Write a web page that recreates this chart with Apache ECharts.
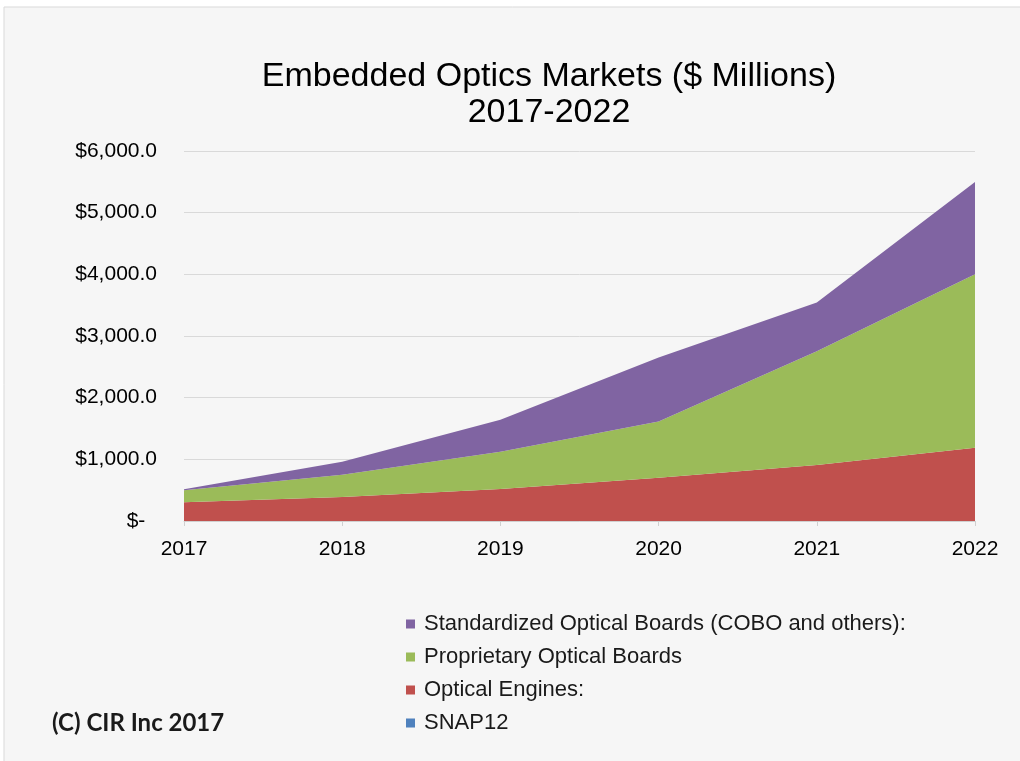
<!DOCTYPE html>
<html><head><meta charset="utf-8">
<script src="https://cdn.jsdelivr.net/npm/echarts@6/dist/echarts.min.js"></script>
<style>html,body{margin:0;padding:0;background:#fff}#c{width:1020px;height:761px}</style>
</head><body><div id="c"></div>
<script>
var years = ['2017','2018','2019','2020','2021','2022'];
var snap12 = [0, 0, 0, 0, 0, 0];
var opticalEngines = [305, 390, 520, 700, 910, 1187];
var proprietaryBoards = [195, 358, 602, 915, 1843, 2813];
var standardizedBoards = [15, 212, 520, 1035, 792, 1496];
var yTicks = [0, 1000, 2000, 3000, 4000, 5000, 6000];

var chart = echarts.init(document.getElementById('c'));
function fmt(v){
  if (v === 0) return '$-  ';
  return '$' + v.toLocaleString('en-US') + '.0';
}
function area(name, data, color){
  return {name:name, type:'line', stack:'total', data:data, symbol:'none', showSymbol:false,
    lineStyle:{width:0}, areaStyle:{color:color, opacity:1}, itemStyle:{color:color}};
}
chart.setOption({
  backgroundColor:'#ffffff',
  animation:false,
  textStyle:{fontFamily:'Liberation Sans, Arial, sans-serif'},
  graphic:[
    {type:'rect', z:-10, shape:{x:4, y:7, width:1030, height:770}, style:{fill:'#f6f6f6', stroke:'#d9d9d9', lineWidth:1}},
    {type:'text', left:52, top:711, style:{text:'(C) CIR Inc 2017', font:'bold 24px Lato, "Open Sans", sans-serif', fill:'#1a1a1a'}}
  ],
  title:{
    text:'Embedded Optics Markets ($ Millions)\n2017-2022',
    left:549, top:59, textAlign:'center', padding:0,
    textStyle:{fontSize:34, fontWeight:'normal', color:'#000', lineHeight:36, fontFamily:'Liberation Sans, Arial, sans-serif'}
  },
  legend:{
    orient:'vertical', left:406, top:613, padding:0, itemWidth:9, itemHeight:9, itemGap:11, icon:'rect',
    data:['Standardized Optical Boards (COBO and others):','Proprietary Optical Boards','Optical Engines:','SNAP12'],
    textStyle:{fontSize:22, color:'#1a1a1a', padding:[0,0,0,4]}
  },
  grid:{left:184, right:45, top:151, bottom:240, containLabel:false},
  xAxis:{
    type:'category', data:years, boundaryGap:false,
    axisLine:{lineStyle:{color:'#d0d0d0'}},
    axisTick:{show:true, length:5, lineStyle:{color:'#d0d0d0'}},
    axisLabel:{fontSize:21, color:'#000', margin:18}
  },
  yAxis:{
    type:'value', min:0, max:6000, interval:1000,
    axisLine:{show:false}, axisTick:{show:false},
    splitLine:{lineStyle:{color:'#d9d9d9'}},
    axisLabel:{fontSize:21, color:'#000', margin:27, formatter:fmt}
  },
  series:[
    area('SNAP12', snap12, '#4F81BD'),
    area('Optical Engines:', opticalEngines, '#C0504D'),
    area('Proprietary Optical Boards', proprietaryBoards, '#9BBB59'),
    area('Standardized Optical Boards (COBO and others):', standardizedBoards, '#8064A2')
  ]
});
</script></body></html>
